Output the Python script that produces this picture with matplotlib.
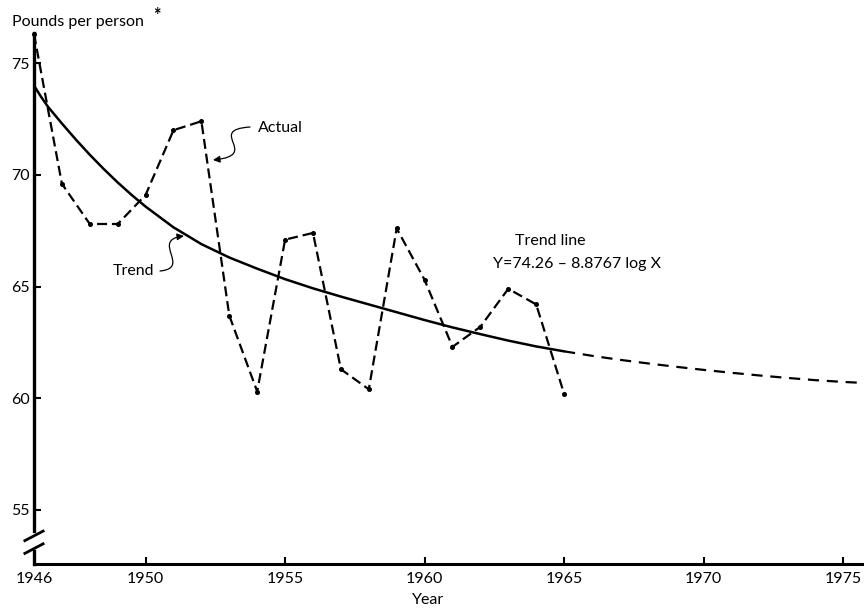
import matplotlib
matplotlib.use("Agg")
import matplotlib.pyplot as plt
from matplotlib.patches import FancyArrowPatch
from matplotlib.path import Path

plt.rcParams['font.family'] = ['Lato', 'DejaVu Sans']

# actual consumption, pounds per person
years = list(range(1946, 1966))
actual = [76.3, 69.6, 67.8, 67.8, 69.1, 72.0, 72.4, 63.7, 60.3, 67.1,
          67.4, 61.3, 60.4, 67.6, 65.3, 62.3, 63.2, 64.9, 64.2, 60.2]

# trend line (solid to 1965, projected after)
trend_years = [1946, 1946.25, 1946.5, 1947, 1947.5, 1948, 1948.5, 1949, 1949.5,
               1950, 1951, 1952, 1953, 1954, 1955, 1956, 1957, 1958, 1959,
               1960, 1961, 1962, 1963, 1964, 1965, 1966, 1967, 1968, 1969,
               1970, 1971, 1972, 1973, 1974, 1975, 1976]
trend = [74.0, 73.5, 73.05, 72.3, 71.58, 70.9, 70.26, 69.66, 69.1,
         68.58, 67.65, 66.9, 66.3, 65.8, 65.33, 64.92, 64.55, 64.2, 63.85,
         63.5, 63.17, 62.87, 62.58, 62.32, 62.1, 61.9, 61.72, 61.56, 61.41,
         61.27, 61.14, 61.02, 60.91, 60.81, 60.73, 60.67]

xticks = [1946, 1950, 1955, 1960, 1965, 1970, 1975]
yticks = [55, 60, 65, 70, 75]

W, H = 864, 608
fig = plt.figure(figsize=(W / 100, H / 100), dpi=100)
left, right, top, bottom = 34, 864, 33, 564
ax = fig.add_axes([left / W, 1 - bottom / H, (right - left) / W, (bottom - top) / H])
ax.set_xlim(1946, 1975.75)
ax.set_ylim(52.58, 76.35)


def px(x, y):
    # figure pixel (from top left) -> data coords
    xd = 1946 + (x - left) / (right - left) * (1975.75 - 1946)
    yd = 52.58 + (bottom - y) / (bottom - top) * (76.35 - 52.58)
    return xd, yd


# trend
n = trend_years.index(1965) + 1
ax.plot(trend_years[:n], trend[:n], color='black', lw=1.8, solid_capstyle='round',
        solid_joinstyle='round')
ax.plot(trend_years[n - 1:], trend[n - 1:], color='black', lw=1.6,
        linestyle=(0, (5, 3.5)))

# actual
ax.plot(years, actual, color='black', lw=1.6, linestyle=(0, (4.5, 2.2)),
        marker='o', ms=2.6, clip_on=False)

# spines / axis break
for s in ['top', 'right', 'left']:
    ax.spines[s].set_visible(False)
ax.spines['bottom'].set_linewidth(2.2)
ax.plot([0, 0], [0.062, 1.0], transform=ax.transAxes, color='black', lw=2.4,
        clip_on=False)
ax.plot([0, 0], [0.0, 0.025], transform=ax.transAxes, color='black', lw=2.4,
        clip_on=False)
for yc in [0.053, 0.029]:
    ax.plot([-0.011, 0.011], [yc - 0.009, yc + 0.009], transform=ax.transAxes,
            color='black', lw=2.0, clip_on=False)

ax.set_xticks(xticks)
ax.set_yticks(yticks)
ax.tick_params(axis='both', direction='in', length=5, width=1.5, labelsize=11.5,
               colors='black')
ax.tick_params(axis='x', pad=6)
ax.tick_params(axis='y', pad=3)
ax.xaxis.get_major_ticks()[0].tick1line.set_visible(False)

# annotations
ax.text(*px(258, 128), "Actual", fontsize=11.5, ha='left', va='center')
ax.text(*px(154, 271), "Trend", fontsize=11.5, ha='right', va='center')
ax.text(*px(515, 241), "Trend line", fontsize=11.5, ha='left', va='center')
ax.text(*px(493, 264), "Y=74.26 \u2013 8.8767 log X", fontsize=11.5,
        ha='left', va='center')

for pts in [[(250, 127), (205, 130), (262, 155), (213, 160)],
            [(160, 271), (192, 268), (150, 240), (184, 236)]]:
    path = Path([px(*p) for p in pts],
                [Path.MOVETO, Path.CURVE4, Path.CURVE4, Path.CURVE4])
    ax.add_patch(FancyArrowPatch(path=path, arrowstyle='-|>,head_length=4,head_width=2',
                                 color='black', lw=0.9, mutation_scale=1))

fig.text(12 / W, 1 - 22 / H, "Pounds per person", fontsize=11.5, ha='left', va='center')
fig.text(153 / W, 1 - 16 / H, "*", fontsize=13, fontweight='bold', ha='left', va='center')
fig.text(428 / W, 1 - 600 / H, "Year", fontsize=11.5, ha='center', va='center')

fig.savefig("out.png", dpi=100, facecolor='white')
